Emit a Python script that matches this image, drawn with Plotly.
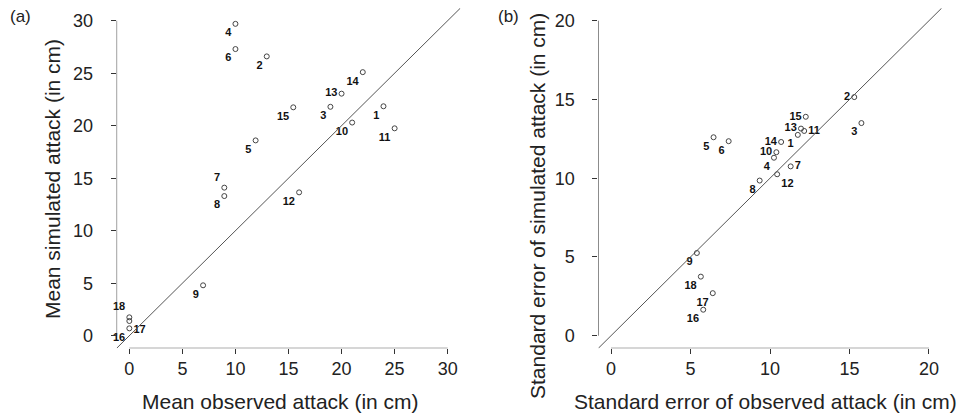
import plotly.graph_objects as go

# ---------------- data ----------------
point_ids = [str(i) for i in range(1, 19)]

# Panel (a): mean observed vs mean simulated attack (cm)
mean_obs = [23.95, 12.95, 18.95, 10.0, 11.9, 10.0, 8.95, 8.95, 6.95,
            21.0, 25.0, 16.0, 20.0, 22.0, 15.45, 0.0, 0.0, 0.0]
mean_sim = [21.85, 26.6, 21.8, 29.7, 18.6, 27.3, 14.1, 13.3, 4.8,
            20.3, 19.75, 13.65, 23.05, 25.1, 21.75, 0.7, 1.4, 1.75]

# Panel (b): standard error observed vs simulated attack (cm)
se_obs = [11.75, 15.3, 15.75, 10.25, 6.45, 7.4, 11.3, 9.35, 5.4,
          10.4, 12.15, 10.45, 11.95, 10.7, 12.25, 5.8, 6.4, 5.65]
se_sim = [12.75, 15.15, 13.5, 11.3, 12.6, 12.35, 10.75, 9.85, 5.25,
          11.65, 13.0, 10.25, 13.15, 12.3, 13.9, 1.65, 2.7, 3.75]

ticks_a = [0, 5, 10, 15, 20, 25, 30]
ticks_b = [0, 5, 10, 15, 20]

x_title_a = "Mean observed attack (in cm)"
y_title_a = "Mean simulated attack (in cm)"
x_title_b = "Standard error of observed attack (in cm)"
y_title_b = "Standard error of simulated attack (in cm)"

# ---------------- style ----------------
pos_a = ["bottom left"] * 18
pos_a[6] = "top left"      # 7
pos_a[12] = "middle left"  # 13
pos_a[16] = "bottom right" # 17
pos_a[17] = "top left"     # 18

pos_b = ["bottom left"] * 18
for i, p in {2: "middle left", 15: "middle left", 13: "middle left",
             11: "middle right", 14: "middle left", 10: "middle left",
             7: "middle right", 12: "bottom right"}.items():
    pos_b[i - 1] = p

FONT = "Liberation Sans, Arial, sans-serif"
PT_COL = "#444444"
LINE_COL = "#555555"
TXT_COL = "#222222"
W, H = 960, 416


def r_range(ticks):
    lo, hi = ticks[0], ticks[-1]
    pad = 0.04 * (hi - lo)
    return [lo - pad, hi + pad]


rng_a = r_range(ticks_a)
rng_b = r_range(ticks_b)

fig = go.Figure()

for xs, ys, pos, xa, ya in [(mean_obs, mean_sim, pos_a, "x", "y"),
                            (se_obs, se_sim, pos_b, "x2", "y2")]:
    fig.add_trace(go.Scatter(
        x=xs, y=ys, text=point_ids, mode="markers+text",
        textposition=pos,
        textfont=dict(family=FONT, size=11, color="#111111", weight="bold"),
        marker=dict(symbol="circle-open", size=5, color=PT_COL,
                    line=dict(width=1, color=PT_COL)),
        xaxis=xa, yaxis=ya, showlegend=False, hoverinfo="skip",
        cliponaxis=False))

shapes = []
for rng, ticks, xr, yr in [(rng_a, ticks_a, "x", "y"), (rng_b, ticks_b, "x2", "y2")]:
    shapes.append(dict(type="line", xref=xr, yref=yr, x0=rng[0], y0=rng[0],
                       x1=rng[1], y1=rng[1], line=dict(color=LINE_COL, width=1)))
    shapes.append(dict(type="line", xref=xr, yref=yr, x0=ticks[0], x1=ticks[-1],
                       y0=rng[0], y1=rng[0], line=dict(color="#333333", width=1)))
    shapes.append(dict(type="line", xref=xr, yref=yr, x0=rng[0], x1=rng[0],
                       y0=ticks[0], y1=ticks[-1], line=dict(color="#333333", width=1)))

ax_common = dict(showgrid=False, zeroline=False, showline=False,
                 ticks="outside", ticklen=5, tickwidth=1, tickcolor="#333333",
                 tickfont=dict(family=FONT, size=18, color=TXT_COL))

y_dom = [67.7 / H, 407.9 / H]
tfont = dict(family=FONT, size=21, color=TXT_COL)


def ann(text, px, py, angle=0, font=tfont, xanchor="center"):
    return dict(text=text, xref="paper", yref="paper", x=px / W, y=1 - py / H,
                xanchor=xanchor, yanchor="middle", showarrow=False,
                textangle=angle, font=font)


fig.update_layout(
    width=W, height=H, margin=dict(l=0, r=0, t=0, b=0),
    paper_bgcolor="white", plot_bgcolor="white",
    shapes=shapes,
    xaxis=dict(domain=[116.6 / W, 460.4 / W], range=rng_a, tickvals=ticks_a,
               ticklabelstandoff=-1, **ax_common),
    yaxis=dict(domain=y_dom, range=rng_a, tickvals=ticks_a, ticklabelstandoff=14,
               **ax_common),
    xaxis2=dict(domain=[598.3 / W, 941.7 / W], range=rng_b, tickvals=ticks_b,
                anchor="y2", ticklabelstandoff=-1, **ax_common),
    yaxis2=dict(domain=y_dom, range=rng_b, tickvals=ticks_b, anchor="x2",
                ticklabelstandoff=14, **ax_common),
    annotations=[
        ann(x_title_a, 280, 401),
        ann(y_title_a, 52, 179, angle=-90),
        ann(x_title_b, 765, 401),
        ann(y_title_b, 537, 206, angle=-90),
        ann("(a)", 8, 17, font=dict(family=FONT, size=17, color=TXT_COL), xanchor="left"),
        ann("(b)", 496, 17, font=dict(family=FONT, size=17, color=TXT_COL), xanchor="left"),
    ],
)

fig.write_html("out.html", config={"displayModeBar": False},
               post_script="document.body.style.margin='0px';")
